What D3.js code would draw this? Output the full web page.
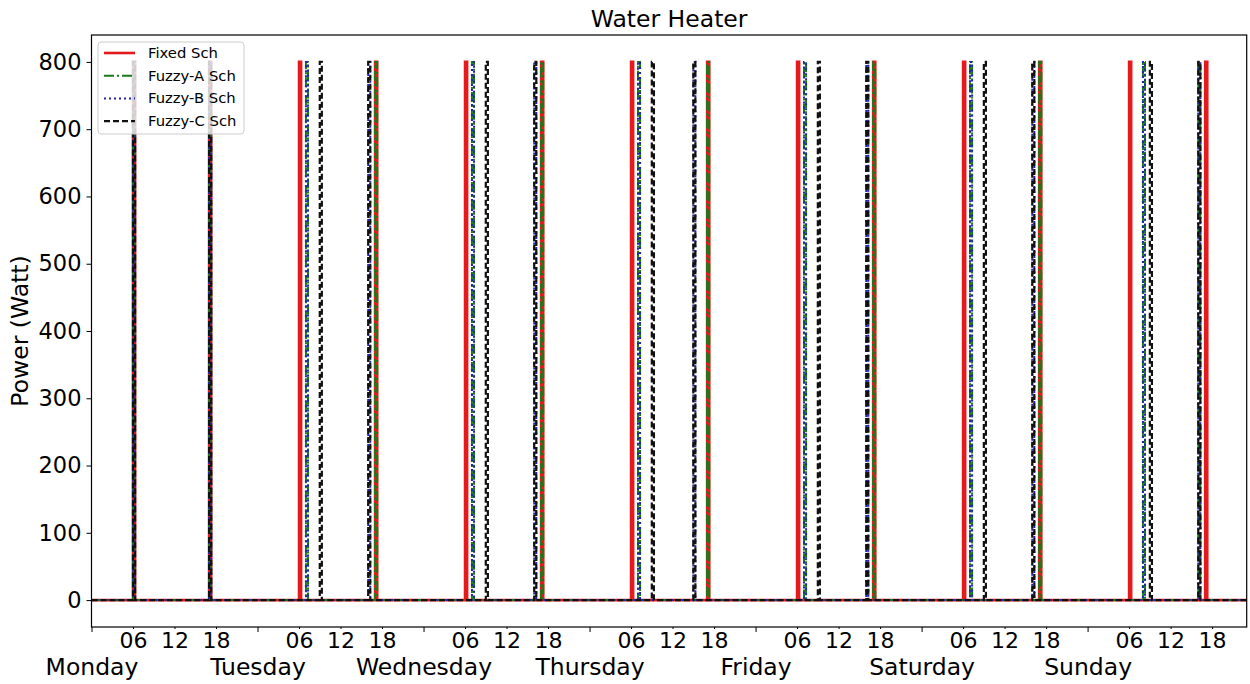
<!DOCTYPE html>
<html><head><meta charset="utf-8">
<script src="https://cdn.jsdelivr.net/npm/d3@7"></script>
<style>body{margin:0;background:#fff}svg{display:block}text{font-family:"DejaVu Sans",sans-serif}</style>
</head><body><svg id="c" width="1250" height="684"></svg>
<script>
const dayNames = ["Monday","Tuesday","Wednesday","Thursday","Friday","Saturday","Sunday"];
const hourTickLabels = ["06","12","18"];
const yTicks = [0,100,200,300,400,500,600,700,800];
const seriesNames = ["Fixed Sch","Fuzzy-A Sch","Fuzzy-B Sch","Fuzzy-C Sch"];
const ratedPower = 800;
// hour-of-week at which the heater switches on
const fixedOn  = [6,17, 30,41, 54,65, 78,89, 102,113, 126,137, 150,161];
const fuzzyAOn = [6,17, 31,41, 55,65, 79,89, 103,113, 127,137, 152,160];
const fuzzyBOn = [6,17, 31,40, 55,64, 79,87, 103,112, 127,136, 152,160];
const fuzzyCOn = [6,17, 33,40, 57,64, 81,87, 105,112, 129,136, 153,160];
const pulseHours = 0.3;
const lastHour = 167;

const svg = d3.select("#c");
const m = {l:91.5, r:1246.7, t:35, b:627};
const x = d3.scaleLinear().domain([0,lastHour]).range([m.l,m.r]);
const y = d3.scaleLinear().domain([-40,840]).range([m.b,m.t]);

function buildSeries(on){
  const pts=[[0,0]];
  on.forEach(h=>{pts.push([h,0],[h,ratedPower],[h+pulseHours,ratedPower],[h+pulseHours,0]);});
  pts.push([lastHour,0]);
  return pts;
}
const styles = [
  {c:"#e41a1c", w:2.6, d:null},
  {c:"#1a7a1a", w:2, d:"10,3,2,3"},
  {c:"#2222aa", w:2, d:"2,3"},
  {c:"#111111", w:2.2, d:"6,3"}
];
const allOn=[fixedOn,fuzzyAOn,fuzzyBOn,fuzzyCOn];
const line=d3.line().x(d=>x(d[0])).y(d=>y(d[1]));
svg.append("defs").append("clipPath").attr("id","cp").append("rect")
  .attr("x",m.l).attr("y",m.t).attr("width",m.r-m.l).attr("height",m.b-m.t);
const g=svg.append("g").attr("clip-path","url(#cp)");
allOn.forEach((on,i)=>{
  g.append("path").attr("d",line(buildSeries(on))).attr("fill","none")
   .attr("stroke",styles[i].c).attr("stroke-width",styles[i].w)
   .attr("stroke-dasharray",styles[i].d).attr("stroke-linejoin","miter");
});

// frame
svg.append("rect").attr("x",m.l).attr("y",m.t).attr("width",m.r-m.l).attr("height",m.b-m.t)
  .attr("fill","none").attr("stroke","#000").attr("stroke-width",1.2);

// y axis
const ya=svg.append("g").attr("transform",`translate(${m.l},0)`)
  .call(d3.axisLeft(y).tickValues(yTicks).tickSize(5).tickPadding(5));
ya.select(".domain").remove();
ya.selectAll("text").attr("font-size",22.5).attr("fill","#000").attr("font-family","DejaVu Sans");

// x axis minor (06/12/18) and major (days)
const minorVals=[]; const majorVals=[];
dayNames.forEach((d,i)=>{majorVals.push(i*24); hourTickLabels.forEach(h=>minorVals.push(i*24+(+h)));});
const xa=svg.append("g").attr("transform",`translate(0,${m.b})`)
  .call(d3.axisBottom(x).tickValues(minorVals).tickSize(2).tickPadding(3)
    .tickFormat(v=>hourTickLabels[Math.round((v%24)/6)-1]));
xa.select(".domain").remove();
xa.selectAll("text").attr("font-size",22).attr("fill","#000").attr("font-family","DejaVu Sans");
const xb=svg.append("g").attr("transform",`translate(0,${m.b})`)
  .call(d3.axisBottom(x).tickValues(majorVals).tickSize(5).tickPadding(26)
    .tickFormat(v=>dayNames[v/24]));
xb.select(".domain").remove();
xb.selectAll("text").attr("font-size",23.5).attr("fill","#000").attr("font-family","DejaVu Sans");

// labels
svg.append("text").attr("x",(m.l+m.r)/2).attr("y",27).attr("text-anchor","middle")
  .attr("font-size",23.5).text("Water Heater");
svg.append("text").attr("transform",`translate(28,${(m.t+m.b)/2}) rotate(-90)`)
  .attr("text-anchor","middle").attr("font-size",23.5).text("Power (Watt)");

// legend
const lg=svg.append("g");
lg.append("rect").attr("x",98).attr("y",42).attr("width",146).attr("height",92).attr("rx",3)
  .attr("fill","#fff").attr("fill-opacity",0.8).attr("stroke","#ccc");
seriesNames.forEach((n,i)=>{
  const yy=53+i*22.7;
  lg.append("line").attr("x1",104).attr("x2",135).attr("y1",yy).attr("y2",yy)
    .attr("stroke",styles[i].c).attr("stroke-width",styles[i].w).attr("stroke-dasharray",styles[i].d);
  lg.append("text").attr("x",148).attr("y",yy+5).attr("font-size",14.8).text(n);
});
</script></body></html>
